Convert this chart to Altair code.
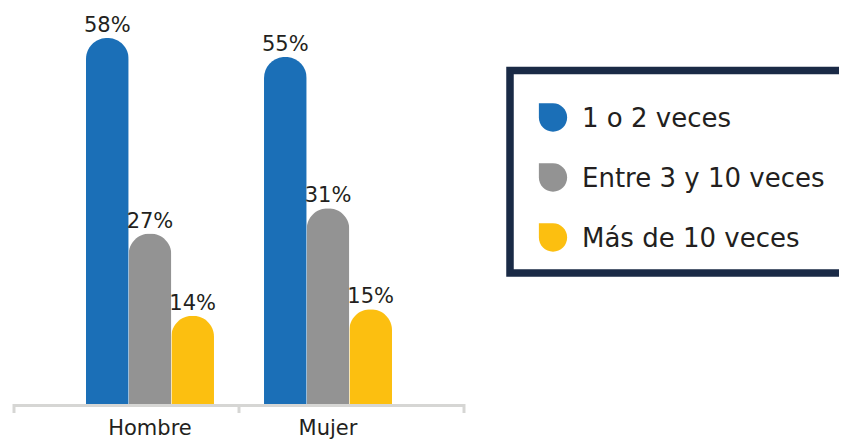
import altair as alt
import pandas as pd

groups = ["Hombre", "Mujer"]
series = ["1 o 2 veces", "Entre 3 y 10 veces", "Más de 10 veces"]
values_hombre = [58, 27, 14]
values_mujer = [55, 31, 15]
colors = ["#1b6fb7", "#939393", "#fcbf10"]

rows = []
for g, vals in zip(groups, [values_hombre, values_mujer]):
    for s, v in zip(series, vals):
        rows.append({"Grupo": g, "Serie": s, "Valor": v, "Etiqueta": f"{v}%"})
df = pd.DataFrame(rows)
df_series = pd.DataFrame({"Serie": series})
df_one = pd.DataFrame({"k": [0]})

FONT = "DejaVu Sans"
TXT = "#231f20"

xscale = alt.Scale(domain=groups, range=[6, 456], paddingInner=0.281, paddingOuter=0.4045)
xoff = alt.Scale(domain=series, paddingInner=0, paddingOuter=0)
yscale = alt.Scale(domain=[0, 62.75], range=[396, 0], nice=False, zero=True)
color_scale = alt.Scale(domain=series, range=colors)

base = alt.Chart(df).encode(
    x=alt.X("Grupo:N", scale=xscale, axis=None),
    xOffset=alt.XOffset("Serie:N", scale=xoff),
    y=alt.Y("Valor:Q", scale=yscale, axis=None),
)

bars = base.mark_bar(cornerRadiusTopLeft=21, cornerRadiusTopRight=21).encode(
    color=alt.Color("Serie:N", scale=color_scale, legend=None),
)

labels = base.mark_text(font=FONT, fontSize=21, color=TXT, dy=-6, baseline="alphabetic").encode(
    text="Etiqueta:N",
)

# group label drawn once per group: only the middle series carries the text
group_labels = base.mark_text(font=FONT, fontSize=21, color=TXT, baseline="alphabetic").encode(
    y=alt.value(427),
    text=alt.condition(alt.datum.Serie == series[1], "Grupo:N", alt.value("")),
)

main = alt.layer(bars, labels, group_labels)

axis_line = alt.Chart(df_one).mark_rule(color="#d6d6d4", strokeWidth=3).encode(
    x=alt.value(6), x2=alt.value(456), y=alt.value(397.5)
)
ticks = alt.Chart(pd.DataFrame({"t": [0, 1, 2]})).mark_rule(color="#d6d6d4", strokeWidth=3).encode(
    x=alt.X("t:Q", scale=alt.Scale(domain=[0, 2], range=[6, 456], nice=False, zero=False), axis=None),
    y=alt.value(396), y2=alt.value(405)
)
axis_layer = alt.layer(axis_line, ticks)

legend_box = alt.Chart(df_one).mark_rect(fill="white", stroke="#1a2a46", strokeWidth=7.5).encode(
    x=alt.value(502), x2=alt.value(870), y=alt.value(62.5), y2=alt.value(265)
)

ly = alt.Scale(domain=series, range=[109.5, 229.5], padding=0)
drop = "M-1,-1H0A1,1,0,0,1,1,0A1,1,0,0,1,0,1A1,1,0,0,1,-1,0Z"
legend_sym = alt.Chart(df_series).mark_point(shape=drop, filled=True, opacity=1, size=800).encode(
    x=alt.value(545),
    y=alt.Y("Serie:N", scale=ly, axis=None),
    color=alt.Color("Serie:N", scale=color_scale, legend=None),
)
legend_txt = alt.Chart(df_series).mark_text(font=FONT, fontSize=26, color=TXT, align="left",
                                            baseline="middle", dy=1.5).encode(
    x=alt.value(574),
    y=alt.Y("Serie:N", scale=ly, axis=None),
    text="Serie:N",
)
leg = alt.layer(legend_box, legend_sym, legend_txt)

chart = alt.layer(axis_layer, main, leg).resolve_scale(y="independent", x="independent").properties(
    width=831, height=396,
    background="white",
    autosize=alt.AutoSizeParams(type="none"),
    padding={"left": 0, "top": 0, "right": 0, "bottom": 36},
).configure_view(strokeWidth=0, stroke="transparent")

chart.save("out.html", embed_options={"renderer": "svg", "actions": False})
